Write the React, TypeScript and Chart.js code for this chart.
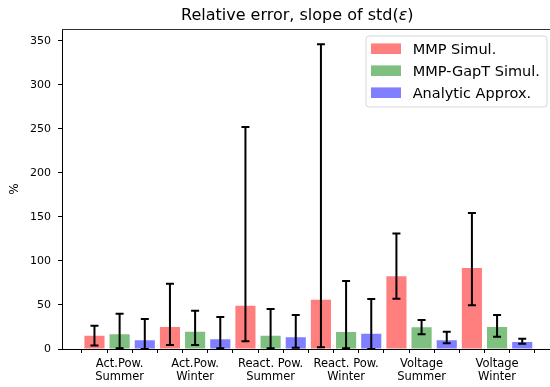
import React, { useEffect, useRef } from "react";
import { Chart, registerables } from "chart.js";

Chart.register(...registerables);

const categories: string[][] = [
  ["Act.Pow.", "Summer"],
  ["Act.Pow.", "Winter"],
  ["React. Pow.", "Summer"],
  ["React. Pow.", "Winter"],
  ["Voltage", "Summer"],
  ["Voltage", "Winter"],
];
const seriesNames = ["MMP Simul.", "MMP-GapT Simul.", "Analytic Approx."];
const seriesColors = ["rgba(255,0,0,0.5)", "rgba(0,128,0,0.5)", "rgba(0,0,255,0.5)"];

const mmpValues = [15, 25, 49, 56, 82.5, 92];
const mmpLow = [4, 4.5, 8.7, 2, 57, 49.6];
const mmpHigh = [26.5, 74, 252, 346, 131, 154.5];

const gapValues = [16.7, 19.7, 15.1, 19.3, 24.6, 25];
const gapLow = [0.8, 4.5, 0.8, 0.8, 16.7, 14];
const gapHigh = [40, 43.5, 45.5, 77.3, 33, 38.6];

const anaValues = [9.9, 11, 13.3, 17.4, 9.9, 8];
const anaLow = [0, 0.8, 1.5, 0, 6.4, 6];
const anaHigh = [34, 36.4, 38.6, 56.8, 19.7, 11.7];

const yTicks = [0, 50, 100, 150, 200, 250, 300, 350];
const yMax = 363.3;

const FONT = "'DejaVu Sans', sans-serif";

const values = [mmpValues, gapValues, anaValues];
const lows = [mmpLow, gapLow, anaLow];
const highs = [mmpHigh, gapHigh, anaHigh];
const nSeries = seriesNames.length;
const xTickPositions = categories.flatMap((_, g) => seriesNames.map((__, s) => g * nSeries + s));

const extrasPlugin = {
  id: "extras",
  afterDatasetsDraw(chart: any) {
    const ctx = chart.ctx;
    const yScale = chart.scales.y;
    ctx.save();
    ctx.strokeStyle = "#000";
    ctx.lineWidth = 2;
    for (let d = 0; d < nSeries; d++) {
      const meta = chart.getDatasetMeta(d);
      meta.data.forEach((bar: any, i: number) => {
        const x = bar.x;
        const yl = yScale.getPixelForValue(lows[d][i]);
        const yh = yScale.getPixelForValue(highs[d][i]);
        ctx.beginPath();
        ctx.moveTo(x, yl);
        ctx.lineTo(x, yh);
        ctx.moveTo(x - 4, yl);
        ctx.lineTo(x + 4, yl);
        ctx.moveTo(x - 4, yh);
        ctx.lineTo(x + 4, yh);
        ctx.stroke();
      });
    }
    ctx.restore();
  },
  afterDraw(chart: any) {
    const ctx = chart.ctx;
    const area = chart.chartArea;
    ctx.save();
    // top spine
    ctx.strokeStyle = "#333";
    ctx.lineWidth = 1;
    ctx.beginPath();
    ctx.moveTo(area.left, area.top + 0.5);
    ctx.lineTo(area.right, area.top + 0.5);
    ctx.stroke();

    // title
    ctx.fillStyle = "#000";
    ctx.textBaseline = "alphabetic";
    ctx.textAlign = "left";
    ctx.font = `16px ${FONT}`;
    const t1 = "Relative error, slope of std(";
    const t2 = "\u03b5";
    const t3 = ")";
    let x = 181;
    ctx.fillText(t1, x, 19.5);
    x += ctx.measureText(t1).width;
    ctx.font = `italic 16px ${FONT}`;
    ctx.fillText(t2, x, 19.5);
    x += ctx.measureText(t2).width;
    ctx.font = `16px ${FONT}`;
    ctx.fillText(t3, x, 19.5);

    // y label
    ctx.save();
    ctx.translate(15, (area.top + area.bottom) / 2);
    ctx.rotate(-Math.PI / 2);
    ctx.textAlign = "center";
    ctx.textBaseline = "middle";
    ctx.font = `12px ${FONT}`;
    ctx.fillText("%", 0, 0);
    ctx.restore();

    // legend
    const lx = 366, ly = 36, lw = 181, lh = 71, r = 3;
    ctx.beginPath();
    ctx.moveTo(lx + r, ly);
    ctx.lineTo(lx + lw - r, ly);
    ctx.quadraticCurveTo(lx + lw, ly, lx + lw, ly + r);
    ctx.lineTo(lx + lw, ly + lh - r);
    ctx.quadraticCurveTo(lx + lw, ly + lh, lx + lw - r, ly + lh);
    ctx.lineTo(lx + r, ly + lh);
    ctx.quadraticCurveTo(lx, ly + lh, lx, ly + lh - r);
    ctx.lineTo(lx, ly + r);
    ctx.quadraticCurveTo(lx, ly, lx + r, ly);
    ctx.closePath();
    ctx.fillStyle = "rgba(255,255,255,0.8)";
    ctx.fill();
    ctx.strokeStyle = "rgba(204,204,204,0.8)";
    ctx.lineWidth = 1;
    ctx.stroke();
    ctx.font = `14.5px ${FONT}`;
    ctx.textAlign = "left";
    ctx.textBaseline = "alphabetic";
    seriesNames.forEach((name, i) => {
      const cy = 48.7 + i * 22;
      ctx.fillStyle = seriesColors[i];
      ctx.fillRect(371, cy - 5.3, 30, 10.6);
      ctx.fillStyle = "#000";
      ctx.fillText(name, 412.7, cy + 5.3);
    });
    ctx.restore();
  },
};

export default function App() {
  const ref = useRef<HTMLCanvasElement | null>(null);
  useEffect(() => {
    if (!ref.current) return;
    Chart.defaults.font.family = FONT;
    Chart.defaults.color = "#000";
    const chart = new Chart(ref.current, {
      type: "bar",
      data: {
        datasets: seriesNames.map((name, s) => ({
          label: name,
          data: values[s].map((v, g) => ({ x: g * nSeries + s, y: v })),
          backgroundColor: seriesColors[s],
          borderWidth: 0,
          grouped: false,
          barPercentage: 0.8,
          categoryPercentage: 1.0,
        })),
      },
      options: {
        animation: false,
        responsive: false,
        devicePixelRatio: 1,
        layout: { padding: { left: 0, top: 29, right: 5.3, bottom: 0 } },
        plugins: {
          legend: { display: false },
          tooltip: { enabled: false },
          title: { display: false },
        },
        scales: {
          x: {
            type: "linear",
            offset: false,
            min: -1.29,
            max: 18.29,
            afterBuildTicks: (s: any) => {
              s.ticks = xTickPositions.map((v) => ({ value: v }));
            },
            afterFit: (s: any) => {
              s.height = 38;
              s.paddingLeft = 0;
              s.paddingRight = 0;
            },
            ticks: {
              autoSkip: false,
              maxRotation: 0,
              minRotation: 0,
              padding: 5,
              font: { size: 11.5, family: FONT, lineHeight: 1.1 },
              color: "#000",
              callback: (value: any) => {
                const v = Number(value);
                return v % nSeries === 1 ? categories[(v - 1) / nSeries] : "";
              },
            },
            grid: { display: true, drawOnChartArea: false, drawTicks: true, tickLength: 4, color: "#000", lineWidth: 1 },
            border: { display: true, color: "#000", width: 1 },
          },
          y: {
            type: "linear",
            min: 0,
            max: yMax,
            afterBuildTicks: (s: any) => {
              s.ticks = yTicks.map((v) => ({ value: v }));
            },
            afterFit: (s: any) => {
              s.width = 62;
              s.paddingTop = 0;
              s.paddingBottom = 0;
            },
            ticks: {
              padding: 7,
              font: { size: 11, family: FONT },
              color: "#000",
            },
            grid: { display: true, drawOnChartArea: false, drawTicks: true, tickLength: 4, color: "#000", lineWidth: 1 },
            border: { display: true, color: "#000", width: 1 },
          },
        },
      },
      plugins: [extrasPlugin],
    } as any);
    return () => chart.destroy();
  }, []);
  return (
    <div style={{ position: "fixed", left: 0, top: 0, width: 560, height: 387 }}>
      <canvas ref={ref} width={560} height={387} style={{ display: "block" }} />
    </div>
  );
}
